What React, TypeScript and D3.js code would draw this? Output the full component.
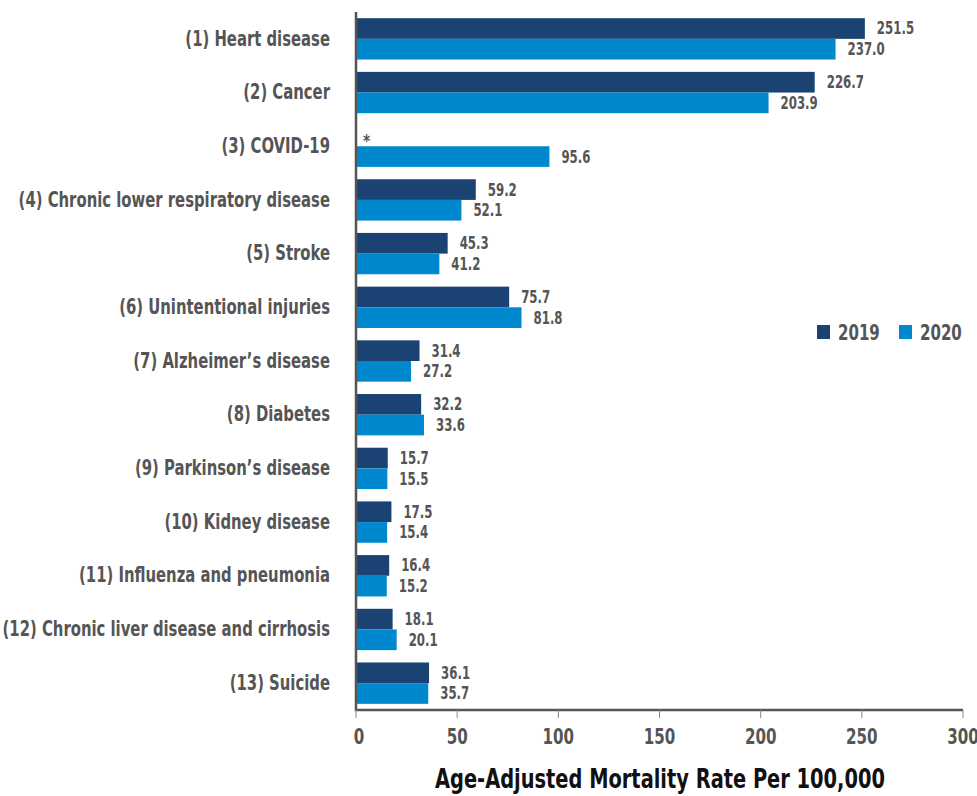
import React, { useEffect, useRef } from "react";
import * as d3 from "d3";

const categories = [
  "(1) Heart disease",
  "(2) Cancer",
  "(3) COVID-19",
  "(4) Chronic lower respiratory disease",
  "(5) Stroke",
  "(6) Unintentional injuries",
  "(7) Alzheimer\u2019s disease",
  "(8) Diabetes",
  "(9) Parkinson\u2019s disease",
  "(10) Kidney disease",
  "(11) Influenza and pneumonia",
  "(12) Chronic liver disease and cirrhosis",
  "(13) Suicide",
];

// null = not available (shown as *)
const values2019 = [251.5, 226.7, null, 59.2, 45.3, 75.7, 31.4, 32.2, 15.7, 17.5, 16.4, 18.1, 36.1];
const values2020 = [237.0, 203.9, 95.6, 52.1, 41.2, 81.8, 27.2, 33.6, 15.5, 15.4, 15.2, 20.1, 35.7];

const seriesNames = ["2019", "2020"];
const xTicks = [0, 50, 100, 150, 200, 250, 300];
const axisTitle = "Age-Adjusted Mortality Rate Per 100,000";

const COLORS = ["#1a4373", "#0088cf"];
const GREY = "#555555";
const FONT = "'DejaVu Sans Condensed', 'DejaVu Sans', sans-serif";

type Sel = d3.Selection<SVGGElement, unknown, null, undefined>;

// condensed bold text: squeeze horizontally to mimic a condensed face
function label(
  g: Sel,
  x: number,
  y: number,
  txt: string,
  size: number,
  squeeze: number,
  anchor = "start",
  fill = GREY
) {
  return g
    .append("text")
    .attr("transform", `translate(${x},${y}) scale(${squeeze},1)`)
    .attr("dy", "0.35em")
    .attr("text-anchor", anchor)
    .attr("font-family", FONT)
    .attr("font-weight", "bold")
    .attr("font-size", size)
    .attr("fill", fill)
    .text(txt);
}

export default function App() {
  const svgRef = useRef<SVGSVGElement | null>(null);

  useEffect(() => {
    if (!svgRef.current) return;
    const svg = d3.select(svgRef.current);
    svg.selectAll("*").remove();
    const root = svg.append("g") as unknown as Sel;

    const left = 356;
    const right = 963;
    const top = 12;
    const bottom = 710;

    const x = d3.scaleLinear().domain([0, 300]).range([left, right]);
    const y = d3
      .scaleBand<number>()
      .domain(categories.map((_, i) => i))
      .range([top, bottom])
      .paddingInner(0.23)
      .paddingOuter(0.115);
    const sub = d3
      .scaleBand<number>()
      .domain([0, 1])
      .range([0, y.bandwidth()]);

    const series = [values2019, values2020];

    // bars + value labels
    series.forEach((vals, s) => {
      const g = root.append("g") as unknown as Sel;
      vals.forEach((v, i) => {
        const by = (y(i) as number) + (sub(s) as number);
        const cy = by + sub.bandwidth() / 2;
        if (v == null) {
          label(g, x(0) + 7, cy + 5, "*", 17, 0.9);
          return;
        }
        g.append("rect")
          .attr("x", x(0))
          .attr("y", by)
          .attr("width", x(v) - x(0))
          .attr("height", sub.bandwidth())
          .attr("fill", COLORS[s]);
        label(g, x(v) + 12, cy, v.toFixed(1), 17, 0.77);
      });
    });

    // category labels
    categories.forEach((c, i) => {
      label(root, 330, (y(i) as number) + y.bandwidth() / 2 - 1, c, 22, 0.75, "end");
    });

    // axis lines
    root
      .append("path")
      .attr("d", `M${left},${top}V${bottom}H${right}`)
      .attr("fill", "none")
      .attr("stroke", "#555")
      .attr("stroke-width", 2.5);

    xTicks.forEach((t) => {
      root
        .append("line")
        .attr("x1", x(t))
        .attr("x2", x(t))
        .attr("y1", bottom)
        .attr("y2", bottom + 8)
        .attr("stroke", "#888")
        .attr("stroke-width", 1);
      label(root, x(t) + (t === 0 ? 3 : 0), 737, String(t), 21, 0.8, "middle");
    });

    label(root, 660, 779, axisTitle, 26, 0.83, "middle", "#111");

    // legend
    const legendX = [817, 899];
    seriesNames.forEach((name, s) => {
      root
        .append("rect")
        .attr("x", legendX[s])
        .attr("y", 325)
        .attr("width", 13)
        .attr("height", 14)
        .attr("fill", COLORS[s]);
      label(root, legendX[s] + 21, 332, name, 22, 0.76);
    });
  }, []);

  return (
    <svg
      ref={svgRef}
      width={977}
      height={796}
      style={{ position: "absolute", left: 0, top: 0, background: "#fff" }}
    />
  );
}
